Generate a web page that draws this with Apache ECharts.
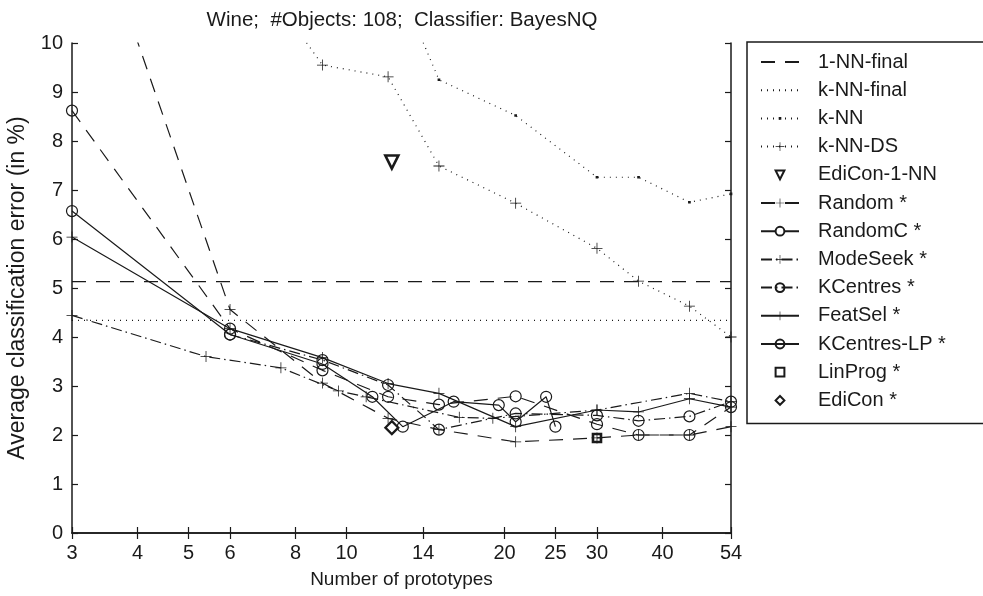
<!DOCTYPE html>
<html>
<head>
<meta charset="utf-8">
<script src="https://cdn.jsdelivr.net/npm/echarts@6/dist/echarts.min.js"></script>
<style>
  html, body { margin: 0; padding: 0; background: #fff; }
  #chart { width: 983px; height: 596px; }
</style>
</head>
<body>
<div id="chart"></div>
<script>
// Tick positions
const xTicks = [3, 4, 5, 6, 8, 10, 14, 20, 25, 30, 40, 54];
const yTicks = [0, 1, 2, 3, 4, 5, 6, 7, 8, 9, 10];

// Fixed prototype-set sizes used by several selectors
const fixedSizes = [3, 6, 9, 12, 15, 21, 30, 36, 45, 54];

// Reference levels (whole training set)
const oneNNFinalX = [3, 54];
const oneNNFinalY = [5.13, 5.13];
const kNNFinalX = [3, 54];
const kNNFinalY = [4.34, 4.34];

// k-NN baselines
const kNNX = [12, 15, 21, 30, 36, 45, 54];
const kNNY = [11.7, 9.25, 8.52, 7.26, 7.26, 6.75, 6.92];
const kNNDSX = [6, 9, 12, 15, 21, 30, 36, 45, 54];
const kNNDSY = [12.2, 9.55, 9.31, 7.49, 6.73, 5.81, 5.14, 4.63, 4.0];

// Single-result methods
const ediCon1NNX = [12.2];
const ediCon1NNY = [7.57];
const linProgX = [30];
const linProgY = [1.94];
const ediConX = [12.2];
const ediConY = [2.15];

// Prototype selection methods
const randomY = [13.9, 4.56, 3.06, 2.34, 2.11, 1.86, 1.94, 2.0, 2.0, 2.17];
const randomCY = [8.62, 4.17, 3.32, 2.78, 2.62, 2.79, 2.22, 2.0, 2.0, 2.57];
const modeSeekX = [3, 5.4, 7.5, 9.65, 10.9, 16.4, 19, 30, 45, 54];
const modeSeekY = [4.44, 3.6, 3.37, 2.9, 2.78, 2.36, 2.34, 2.51, 2.85, 2.68];
const kCentresX = [6, 9, 12, 15, 21, 30, 36, 45, 54];
const kCentresY = [4.05, 3.53, 3.02, 2.11, 2.44, 2.40, 2.29, 2.38, 2.68];
const featSelY = [6.04, 4.17, 3.58, 3.05, 2.85, 2.17, 2.51, 2.47, 2.74, 2.57];
const kCentresLPX = [3, 6, 9, 11.2, 12.8, 16, 19.5, 21, 24, 25];
const kCentresLPY = [6.57, 4.05, 3.45, 2.78, 2.17, 2.68, 2.61, 2.27, 2.78, 2.17];

const ink = '#1a1a1a';
const clear = 'rgba(0,0,0,0)';
const FONT = 'Liberation Sans, Arial, Helvetica, sans-serif';

// Thin plus sign and a small dot centred in a larger box
const plusPath = 'path://M-0.07,-1 L0.07,-1 L0.07,-0.07 L1,-0.07 L1,0.07 L0.07,0.07 L0.07,1 L-0.07,1 L-0.07,0.07 L-1,0.07 L-1,-0.07 L-0.07,-0.07 Z';
const dotPath = 'path://M-1,-1 L-0.99,-1 L-1,-0.99 Z M1,1 L0.99,1 L1,0.99 Z M-0.3,-0.3 L0.3,-0.3 L0.3,0.3 L-0.3,0.3 Z';

function pairs(xs, ys) { return xs.map((x, i) => [x, ys[i]]); }

function lineSeries(name, xs, ys, dash, symbol, symbolSize, hollow) {
  const hasMarker = !!symbol;
  let itemStyle;
  if (!hasMarker) itemStyle = { color: clear, borderColor: clear, borderWidth: 0 };
  else if (hollow) itemStyle = { color: clear, borderColor: ink, borderWidth: 1.2 };
  else itemStyle = { color: ink, borderWidth: 0 };
  return {
    name: name,
    type: 'line',
    data: pairs(xs, ys),
    clip: true,
    symbol: symbol || 'circle',
    symbolSize: symbolSize || 1,
    showSymbol: hasMarker,
    lineStyle: { color: ink, width: 1.2, type: dash },
    itemStyle: itemStyle,
    emphasis: { disabled: true },
    animation: false,
    z: 3
  };
}

function markerSeries(name, xs, ys, symbol, size, borderW, rotate) {
  return {
    name: name,
    type: 'line',
    data: pairs(xs, ys),
    symbol: symbol,
    symbolSize: size,
    symbolRotate: rotate || 0,
    showSymbol: true,
    lineStyle: { width: 0, opacity: 0 },
    itemStyle: { color: clear, borderColor: ink, borderWidth: borderW },
    emphasis: { disabled: true },
    animation: false,
    z: 4
  };
}

const dashed = [14, 10];
const dotted = [1, 5];
const dashDot = [11, 4, 1.5, 4];

const series = [
  lineSeries('1-NN-final', oneNNFinalX, oneNNFinalY, dashed),
  lineSeries('k-NN-final', kNNFinalX, kNNFinalY, dotted),
  lineSeries('k-NN', kNNX, kNNY, dotted, dotPath, 9, false),
  lineSeries('k-NN-DS', kNNDSX, kNNDSY, dotted, plusPath, 11, false),
  markerSeries('EdiCon-1-NN', ediCon1NNX, ediCon1NNY, 'triangle', 13, 2.6, 180),
  lineSeries('Random *', fixedSizes, randomY, dashed, plusPath, 11, false),
  lineSeries('RandomC *', fixedSizes, randomCY, dashed, 'circle', 11, true),
  lineSeries('ModeSeek *', modeSeekX, modeSeekY, dashDot, plusPath, 11, false),
  lineSeries('KCentres *', kCentresX, kCentresY, dashDot, 'circle', 11, true),
  lineSeries('FeatSel *', fixedSizes, featSelY, 'solid', plusPath, 11, false),
  lineSeries('KCentres-LP *', kCentresLPX, kCentresLPY, 'solid', 'circle', 11, true),
  markerSeries('LinProg *', linProgX, linProgY, 'rect', 8, 2.6),
  markerSeries('EdiCon *', ediConX, ediConY, 'diamond', 13, 2.2)
];

const tickLabelStyle = { color: ink, fontFamily: FONT, fontSize: 20 };

const chart = echarts.init(document.getElementById('chart'), null, { renderer: 'canvas' });
chart.setOption({
  backgroundColor: '#fff',
  animation: false,
  title: {
    text: 'Wine;  #Objects: 108;  Classifier: BayesNQ',
    left: 397, top: 5, textAlign: 'center',
    textStyle: { color: ink, fontFamily: FONT, fontSize: 20.5, fontWeight: 'normal' }
  },
  legend: {
    orient: 'vertical',
    left: 747, top: 42,
    padding: [10, 60, 13, 13],
    itemWidth: 38, itemHeight: 11, itemGap: 8.2,
    borderColor: ink, borderWidth: 1.5,
    textStyle: { color: ink, fontFamily: FONT, fontSize: 20, padding: [0, 0, 0, 14] },
    selectedMode: false,
    data: series.map(s => s.name)
  },
  grid: { left: 72, right: 252, top: 43, bottom: 63, containLabel: false, outerBoundsMode: 'none' },
  xAxis: [
    {
      type: 'log', logBase: 10, min: 3, max: 54,
      name: 'Number of prototypes', nameLocation: 'middle', nameGap: 37,
      nameTextStyle: { color: ink, fontFamily: FONT, fontSize: 19 },
      axisLine: { lineStyle: { color: ink, width: 1.5 } },
      axisTick: { inside: true, length: 6, lineStyle: { color: ink, width: 1.2 }, customValues: xTicks },
      axisLabel: Object.assign({ margin: 10, customValues: xTicks, formatter: v => String(Math.round(v)) }, tickLabelStyle),
      minorTick: { show: false },
      splitLine: { show: false }
    },
    {
      type: 'log', logBase: 10, min: 3, max: 54, position: 'top',
      axisLine: { lineStyle: { color: ink, width: 1.5 } },
      axisTick: { inside: true, length: 6, lineStyle: { color: ink, width: 1.2 }, customValues: xTicks },
      axisLabel: { show: false },
      splitLine: { show: false }
    }
  ],
  yAxis: [
    {
      type: 'value', min: 0, max: 10, interval: 1,
      name: 'Average classification error (in %)', nameLocation: 'middle', nameGap: 43,
      nameTextStyle: { color: ink, fontFamily: FONT, fontSize: 23 },
      axisLine: { show: true, lineStyle: { color: ink, width: 1.5 } },
      axisTick: { show: true, inside: true, length: 6, lineStyle: { color: ink, width: 1.2 } },
      axisLabel: Object.assign({ margin: 9 }, tickLabelStyle),
      splitLine: { show: false }
    },
    {
      type: 'value', min: 0, max: 10, interval: 1, position: 'right',
      axisLine: { show: true, lineStyle: { color: ink, width: 1.5 } },
      axisTick: { show: true, inside: true, length: 6, lineStyle: { color: ink, width: 1.2 } },
      axisLabel: { show: false },
      splitLine: { show: false }
    }
  ],
  series: series
});
</script>
</body>
</html>
